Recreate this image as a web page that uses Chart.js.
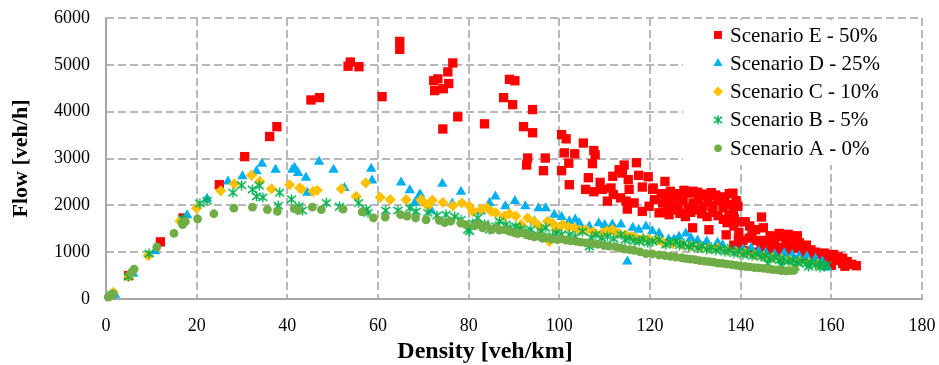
<!DOCTYPE html>
<html><head><meta charset="utf-8">
<script src="https://cdn.jsdelivr.net/npm/chart.js@4.4.1/dist/chart.umd.min.js"></script>
<style>html,body{margin:0;padding:0;background:#fff}#wrap{width:939px;height:365px}</style>
</head><body><div id="wrap"><canvas id="c" width="939" height="365"></canvas></div>
<script>
// ---- data (density [veh/km], flow [veh/h]) ----
const seriesNames = ['Scenario E - 50%','Scenario D - 25%','Scenario C - 10%','Scenario B - 5%','Scenario A - 0%'];
const xTickLabels = ['0','20','40','60','80','100','120','140','160','180'];
const yTickLabels = ['0','1000','2000','3000','4000','5000','6000'];
const xAxisTitle = 'Density [veh/km]';
const yAxisTitle = 'Flow [veh/h]';

const scenarioA = [[0.5,40],[1.5,110],[5.5,560],[6.2,640],[11.2,1110],[15,1400],[16.9,1590],[17.5,1650],[20.2,1710],[23.8,1820],[28.2,1940],[32.3,1960],[35.6,1910],[37.8,1870],[41.5,1930],[42.4,1890],[45.5,1960],[47.5,1910],[52.3,1920],[56.5,1860],[59,1730],[61.6,1750],[65,1800],[66.4,1770],[68.3,1730],[70.6,1690],[73.5,1680],[74.7,1630],[76,1660],[78.3,1620],[79.4,1590],[81.3,1560],[82,1600],[83.1,1520],[84,1560],[85,1480],[86,1520],[86.8,1470],[88,1480],[89,1445],[90,1420],[90.8,1395],[92,1410],[92.7,1375],[93.5,1350],[94.5,1325],[95.5,1340],[96.3,1295],[97,1310],[98.2,1280],[99.6,1267],[100.5,1285],[101.5,1255],[102.5,1240],[103.7,1231],[104.8,1215],[105.9,1197],[107.3,1182],[108.5,1165],[109.9,1139],[111,1130],[112.5,1111],[113.5,1085],[114.3,1068],[115.5,1055],[116.5,1038],[117.8,1005],[119.1,968],[120.5,962],[122,940],[123.3,925],[124.5,912],[125.7,895],[127,880],[128,862],[129,850],[130,838],[131,818],[132,808],[133,798],[134,786],[135,768],[136,762],[137,743],[138,736],[139,716],[140,702],[141,694],[142,688],[143,672],[144,664],[145,652],[146,641],[147,628],[148,622],[149,608],[150,598],[151,604],[151.8,612]];

const scenarioB = [[1.3,90],[4.9,480],[9.5,970],[16.9,1710],[20.7,2040],[22.3,2100],[28,2270],[29.9,2430],[32.3,2340],[33.8,2420],[33.2,2190],[34.6,2170],[38.3,2270],[38,1990],[40.9,2130],[42.6,1980],[43.3,1890],[48.6,2050],[51.5,1970],[55.7,2050],[57.4,1910],[57.8,1840],[61.7,1890],[64.4,1890],[67,1940],[68.4,1870],[71,1840],[73,1780],[75,1800],[76.9,1760],[78.3,1690],[79.8,1480],[80.9,1620],[80.2,1450],[82,1730],[83.5,1600],[84.6,1480],[86,1560],[86.8,1660],[88.2,1590],[89.2,1520],[90.4,1550],[91.5,1500],[92.5,1440],[93.7,1480],[95.2,1370],[96,1450],[97,1520],[98.5,1340],[99.3,1410],[100.5,1380],[102.2,1370],[103.5,1330],[105.1,1440],[106.6,1120],[107,1310],[108.1,1370],[109.3,1300],[110.6,1340],[112,1290],[113.6,1370],[114.5,1260],[115.4,1300],[116.5,1240],[117.6,1230],[118.5,1280],[119.5,1200],[120.6,1230],[122,1270],[123.5,1160],[124.5,1210],[125.7,1230],[126.5,1150],[127.5,1180],[128.5,1120],[129.5,1160],[130.5,1090],[131.5,1130],[132.5,1060],[133.5,1100],[134.5,1040],[135.5,1080],[136.5,1010],[137.5,1050],[138.5,980],[139.5,1020],[140.5,950],[141.5,990],[142.5,920],[143.5,960],[144.5,900],[145.5,930],[146.5,860],[147.5,890],[148.5,830],[149.5,860],[150.5,800],[151.5,830],[152.5,780],[153.5,810],[154.5,750],[155.5,780],[156.5,730],[157.5,760],[158.5,700],[159,720],[146,760],[149,720],[152,700],[155,690],[157.5,680]];

const scenarioC = [[1.6,140],[5,480],[9.3,925],[16.3,1660],[20,1940],[25.3,2310],[28.3,2460],[32.1,2640],[33.9,2510],[36.5,2350],[40.5,2440],[42.7,2370],[43.1,2350],[45.7,2300],[46.6,2320],[51.9,2350],[55.2,2190],[57.3,2480],[60.5,2170],[62.7,2120],[66.2,2120],[69.5,2120],[69.8,2085],[71,1990],[72,2110],[74.3,2060],[76.5,1990],[78.5,2050],[80.2,1980],[80.9,1870],[82.7,1910],[84,1950],[85,1870],[86,1840],[87.9,1770],[89,1820],[90.4,1770],[91.6,1590],[93,1730],[94.5,1650],[95.6,1550],[97.4,1660],[97.8,1230],[98.5,1620],[99.3,1480],[100.7,1590],[102,1540],[103.3,1520],[104.5,1470],[105.9,1480],[107.5,1430],[109.5,1410],[110.5,1450],[111.7,1480],[113,1400],[114.7,1370],[116,1340],[116.9,1300],[118.5,1290],[119.8,1270],[121.5,1250],[123,1200],[125,1180],[127,1160],[129,1130],[131,1110],[133,1080],[134.9,1090],[137,1040],[139,1000],[141,980],[143,940],[145,910],[147,880],[149,850],[151,820],[153,800],[155,770],[157,740]];

const scenarioD = [[2,90],[6,540],[10.8,1020],[17.9,1790],[22.3,2140],[26.9,2510],[30.1,2620],[33.2,2730],[34.4,2890],[37.4,2760],[41.1,2760],[41.6,2800],[42.4,2690],[44.1,2590],[44.4,2270],[47,2930],[50.2,2760],[52.6,2370],[58.5,2780],[58.7,2530],[65.1,2490],[67,2320],[69,2190],[68.1,2050],[69.3,2230],[71.7,1890],[74.2,2460],[76.4,2040],[78.3,2290],[82.7,1870],[84.6,2050],[85.9,2190],[88.1,1980],[90.2,2090],[92.5,1980],[94.5,1660],[95.4,1940],[97,1940],[98.9,1800],[100.5,1750],[102.2,1660],[103.5,1700],[104.4,1620],[106.6,1550],[108.7,1620],[110,1580],[111.7,1590],[113.6,1590],[115,800],[116.2,1520],[117.5,1480],[119.1,1550],[120.5,1450],[122,1400],[124.1,1270],[125.3,1270],[126.4,1330],[127.9,1400],[129,1300],[130.5,1250],[132.5,1230],[134.9,1200],[136,1150],[137.1,1060],[138.9,1030],[140.5,1060],[142.3,1090],[144,1020],[145.5,990],[147.5,950],[149.6,980],[151.4,940],[152.9,920],[154.6,910],[156.5,860],[158,800],[159.1,670]];

const scenarioE = [[5,500],[12,1220],[17,1730],[25,2440],[30.6,3040],[36.1,3470],[37.7,3680],[45.2,4250],[47.1,4300],[53.4,4970],[53.9,5060],[55.8,4960],[60.9,4320],[64.8,5500],[64.8,5330],[72.3,4660],[73.2,4700],[72.5,4450],[74.4,4490],[75.6,4600],[75.4,4850],[76.5,5040],[77.6,3890],[74.3,3630],[83.5,3740],[89,4690],[90.2,4660],[87.7,4300],[89.7,4150],[94.1,4045],[92.1,3680],[94.1,3550],[93,3010],[92.8,2860],[96.9,3010],[96.5,2740],[100.5,3510],[101.5,3420],[105.3,3330],[101.1,3120],[103.4,3100],[102.1,2900],[100.5,2740],[102.2,2440],[107.6,3170],[107.9,3080],[107.3,2890],[106.4,2590],[105.8,2340],[107.6,2290],[109,2490],[109.5,2340],[111.4,2370],[110.6,2090],[111.8,2620],[113.2,2760],[114.3,2860],[113.9,2690],[111.9,2230],[113.5,2160],[115.2,2550],[115.4,2340],[114.7,2090],[115,1920],[117,2910],[117.5,2640],[118.3,2390],[119.6,2610],[116.5,2050],[118.3,1870],[120.6,2340],[121,2120],[119.8,1980],[120.7,2370],[123.3,2510],[122,1840],
[122.5,2250],[123.5,2180],[124.5,2300],[125.5,2200],[126.5,2250],[127.5,2320],[128.5,2260],[129.5,2300],[130.5,2280],[131.5,2240],[132.5,2200],[133.5,2270],[134.5,2220],[135.5,2180],[136.5,2150],[137.5,2250],[138.3,2260],[139,2100],
[122.8,2050],[124,1980],[125,2080],[126.2,2000],[127.3,2100],[128.4,1950],[129.5,2050],[130.6,2120],[131.7,1980],[132.8,2060],[133.9,1990],[135,2100],[136.1,1950],[137.2,2020],[138.4,1900],[139.4,1980],
[123,1850],[124.2,1800],[125.4,1900],[126.6,1830],[127.8,1760],[129,1850],[130.2,1900],[131.4,1820],[132.6,1760],[133.8,1850],[135,1780],[136.2,1700],[137.4,1800],[138.6,1720],[139.6,1650],
[129.4,1520],[133,1480],[136.8,1370],[139.6,1420],[138.5,1560],[137,1630],[138.5,1150],[140,1100],[140.5,1250],[139.5,1300],
[141,1650],[142,1560],[143.3,1480],[144.6,1750],[145,1520],[141.9,1300],[142.5,1400],[143.5,1250],[144.5,1150],[145.5,1250],[141,1030],[143,1000],[145,1030],
[146.5,1350],[147.5,1280],[148.5,1400],[149.5,1330],[150.5,1380],[151.5,1300],[152.5,1350],[147,1150],[148.5,1100],[150,1200],[151.5,1150],[153,1200],[146,1050],[148,1000],[150,1050],[152,1080],[153.5,1100],
[154.5,1150],[155.5,1050],[156.5,1000],[157.5,960],[158.5,980],[159.5,930],[160.5,950],[161.5,900],[162.5,870],[154,950],[155,880],[156.5,880],[158,850],[159.5,800],[161,820],[162.5,760],[163.5,800],[164.5,740],[165.5,710],[163,700],[160,720]];

const seriesColors = ['#FF0000','#00B0F0','#FFC000','#00B050','#70AD47'];

// ---- asterisk marker (Excel style) ----
function makeAsterisk(color, s){
  const c = document.createElement('canvas'); c.width = s; c.height = s;
  const g = c.getContext('2d'); g.strokeStyle = color; g.lineWidth = 1.5;
  const m = s / 2;
  g.beginPath();
  g.moveTo(m,0.5); g.lineTo(m,s-0.5);
  g.moveTo(1,1.8); g.lineTo(s-1,s-1.8);
  g.moveTo(s-1,1.8); g.lineTo(1,s-1.8);
  g.stroke();
  return c;
}
const asterisk = makeAsterisk(seriesColors[3], 11);
const asteriskSmall = makeAsterisk(seriesColors[3], 10);

const toPts = arr => arr.map(p => ({x:p[0], y:p[1]}));
const styles = [
  {style:'rect', r:6.6},
  {style:'triangle', r:6},
  {style:'rectRot', r:5.6},
  {style:asterisk, r:5.5},
  {style:'circle', r:4.4}
];
const legendStyles = [
  {style:'rect', r:5.6},
  {style:'triangle', r:5.2},
  {style:'rectRot', r:5},
  {style:asteriskSmall, r:5},
  {style:'circle', r:3.8}
];
const allData = [scenarioE, scenarioD, scenarioC, scenarioB, scenarioA];

// dataset order: A first (drawn on top), E last (drawn at bottom)
const datasets = [];
for (let i = 4; i >= 0; i--) {
  datasets.push({
    label: seriesNames[i],
    data: toPts(allData[i]),
    pointStyle: styles[i].style,
    pointRadius: styles[i].r,
    pointHoverRadius: styles[i].r,
    backgroundColor: seriesColors[i],
    borderColor: seriesColors[i],
    pointBorderWidth: 0,
    showLine: false,
    clip: false
  });
}

const FONT = "'Liberation Serif', 'Times New Roman', serif";

// dashed gridlines and axis lines drawn (as filled segments) at the scales' own ticks
const gridPlugin = {
  id: 'dashGrid',
  beforeDatasetsDraw(chart) {
    const ctx = chart.ctx, ca = chart.chartArea;
    const xs = chart.scales.x, ys = chart.scales.y;
    const on = 8, off = 4, w = 2;
    ctx.save();
    ctx.globalAlpha = 1;
    ctx.globalCompositeOperation = 'source-over';
    ctx.fillStyle = '#b8b8b8';
    for (const t of xs.ticks) {
      if (t.value <= xs.min) continue;
      const px = Math.round(xs.getPixelForValue(t.value));
      for (let y = ca.top; y < ca.bottom; y += on + off) {
        ctx.fillRect(px - w / 2, y, w, Math.min(on, ca.bottom - y));
      }
    }
    for (const t of ys.ticks) {
      if (t.value <= ys.min) continue;
      const py = Math.round(ys.getPixelForValue(t.value));
      for (let x = ca.left; x < ca.right; x += on + off) {
        ctx.fillRect(x, py - w / 2, Math.min(on, ca.right - x), w);
      }
    }
    // solid axis lines
    ctx.fillStyle = '#a6a6a6';
    ctx.fillRect(Math.round(ca.left) - 1, Math.round(ca.top), 2, Math.round(ca.bottom - ca.top) + 1);
    ctx.fillRect(Math.round(ca.left) - 1, Math.round(ca.bottom) - 1, Math.round(ca.right - ca.left) + 1, 2);
    ctx.restore();
  }
};

const legendPlugin = {
  id: 'boxLegend',
  afterDatasetsDraw(chart) {
    const ctx = chart.ctx, ca = chart.chartArea;
    const bx = 683, by = ca.top + 2, bw = ca.right - 3 - bx, bh = 145;
    ctx.save();
    ctx.fillStyle = '#ffffff';
    ctx.fillRect(bx, by, bw, bh);
    ctx.font = '21px ' + FONT;
    ctx.textBaseline = 'middle';
    for (let i = 0; i < 5; i++) {
      const y = 35 + i * 28.3;
      ctx.fillStyle = seriesColors[i];
      ctx.strokeStyle = seriesColors[i];
      Chart.helpers.drawPoint(ctx, {pointStyle: legendStyles[i].style, radius: legendStyles[i].r, rotation: 0, borderWidth: 0}, 718, y);
      ctx.fillStyle = '#000';
      ctx.fillText(seriesNames[i], 730, y + 1);
    }
    // x-axis title
    ctx.font = 'bold 24px ' + FONT;
    ctx.textAlign = 'center';
    ctx.fillText(xAxisTitle, 485, 352);
    ctx.restore();
  }
};

new Chart(document.getElementById('c'), {
  type: 'scatter',
  data: { datasets },
  plugins: [gridPlugin, legendPlugin],
  options: {
    responsive: false,
    animation: false,
    events: [],
    layout: { padding: { top: 18, right: 17, left: 0, bottom: 0 } },
    plugins: { legend: { display: false }, tooltip: { enabled: false } },
    scales: {
      x: {
        type: 'linear', min: 0, max: 180,
        afterFit: s => { s.height = 66; },
        ticks: { stepSize: 20, color: '#000', font: { family: FONT, size: 18 }, padding: 0,
                 callback: (v) => xTickLabels[Math.round(v / 20)] },
        grid: { drawOnChartArea: false, drawTicks: true, tickLength: 16, tickColor: 'rgba(0,0,0,0)' },
        border: { display: true, color: '#a6a6a6', width: 2 },
        title: { display: false, text: xAxisTitle }
      },
      y: {
        type: 'linear', min: 0, max: 6000,
        afterFit: s => { s.width = 106; },
        ticks: { stepSize: 1000, color: '#000', font: { family: FONT, size: 18 }, padding: 0,
                 callback: (v) => yTickLabels[Math.round(v / 1000)] },
        grid: { drawOnChartArea: false, drawTicks: true, tickLength: 16, tickColor: 'rgba(0,0,0,0)' },
        border: { display: true, color: '#a6a6a6', width: 2 },
        title: { display: true, text: yAxisTitle, color: '#000',
                 font: { family: FONT, size: 22, weight: 'bold' }, padding: { top: 8, bottom: 0 } }
      }
    }
  }
});
</script></body></html>
